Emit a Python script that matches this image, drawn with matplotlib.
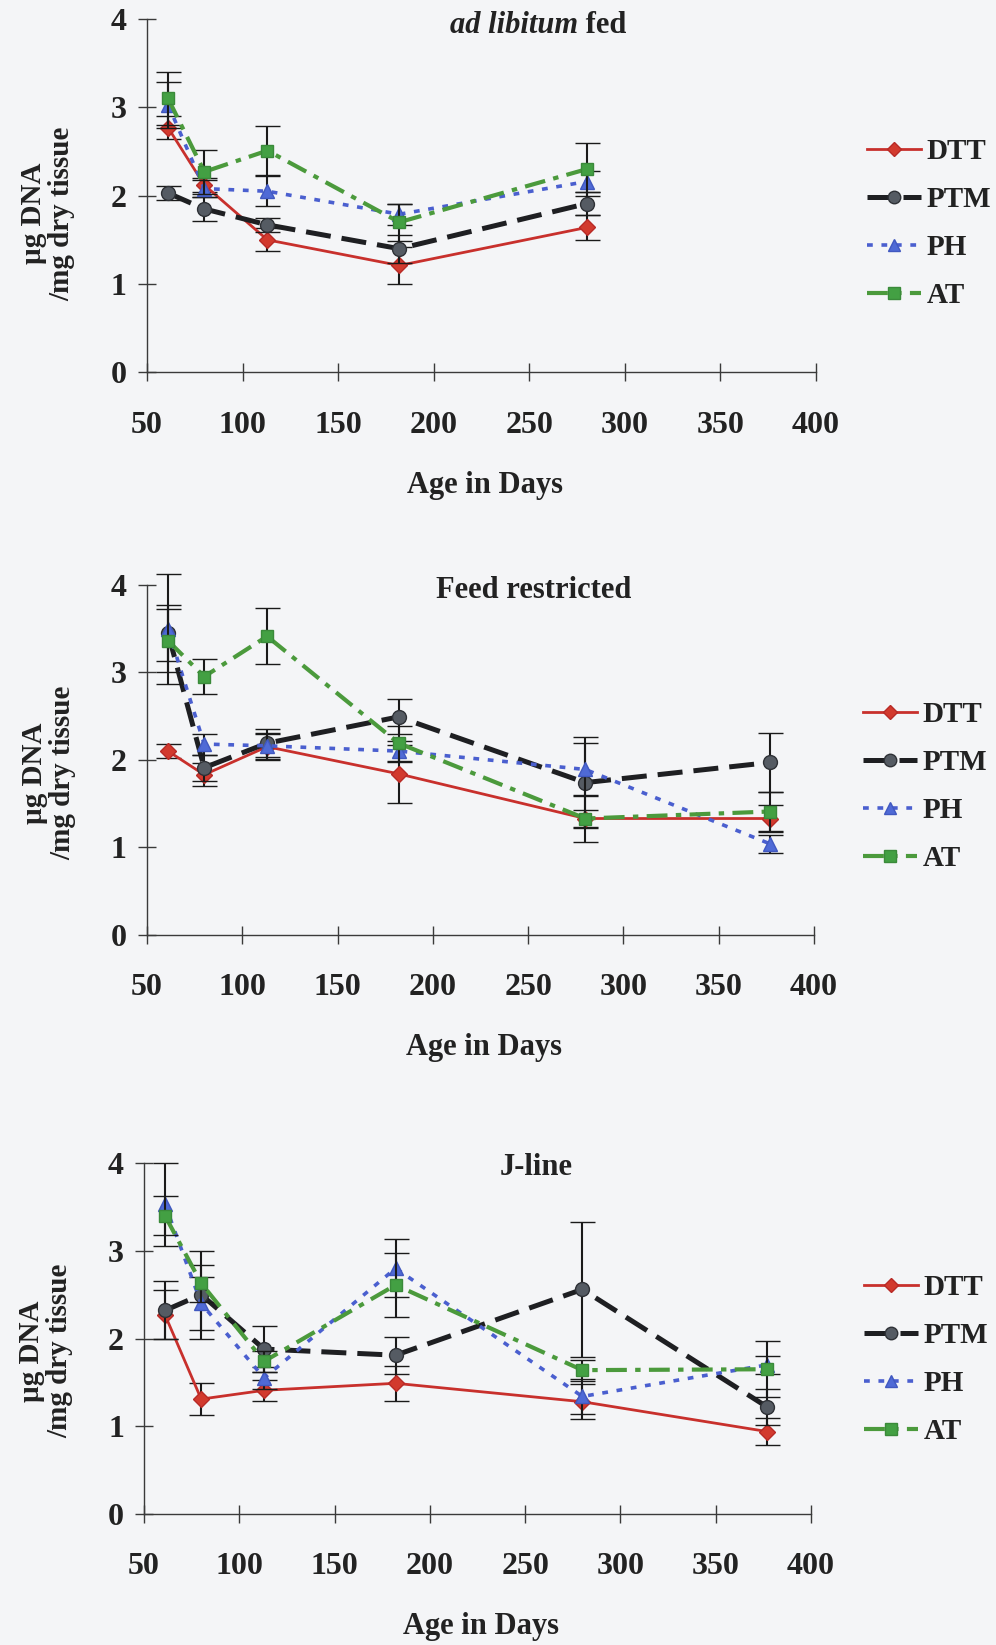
import matplotlib
matplotlib.use("Agg")
import matplotlib.pyplot as plt
from matplotlib.lines import Line2D

plt.rcParams["font.family"] = ["Liberation Serif", "DejaVu Serif"]
plt.rcParams["font.weight"] = "bold"
plt.rcParams["axes.labelweight"] = "bold"

# ---- data: DNA content (µg DNA / mg dry tissue) by age in days ----
ages_adlib = [61, 80, 113, 182, 280]
ages = [61, 80, 113, 182, 280, 377]

series_names = ["DTT", "PTM", "PH", "AT"]

adlib_dtt = [2.77, 2.12, 1.50, 1.21, 1.64]
adlib_dtt_err = [0.13, 0.08, 0.13, 0.21, 0.14]
adlib_ptm = [2.03, 1.85, 1.67, 1.40, 1.91]
adlib_ptm_err = [0.08, 0.14, 0.08, 0.16, 0.13]
adlib_ph = [3.03, 2.08, 2.05, 1.79, 2.16]
adlib_ph_err = [0.26, 0.10, 0.17, 0.12, 0.12]
adlib_at = [3.10, 2.27, 2.51, 1.70, 2.30]
adlib_at_err = [0.30, 0.25, 0.28, 0.21, 0.30]

restr_dtt = [2.10, 1.83, 2.15, 1.84, 1.33, 1.33]
restr_dtt_err = [0.08, 0.13, 0.15, 0.33, 0.10, 0.15]
restr_ptm = [3.45, 1.91, 2.19, 2.49, 1.74, 1.97]
restr_ptm_err = [0.32, 0.15, 0.16, 0.20, 0.52, 0.34]
restr_ph = [3.49, 2.18, 2.16, 2.10, 1.89, 1.04]
restr_ph_err = [0.63, 0.12, 0.15, 0.12, 0.30, 0.10]
restr_at = [3.36, 2.95, 3.41, 2.19, 1.33, 1.41]
restr_at_err = [0.36, 0.20, 0.32, 0.20, 0.27, 0.22]

jline_dtt = [2.27, 1.31, 1.41, 1.49, 1.28, 0.94]
jline_dtt_err = [0.28, 0.18, 0.12, 0.20, 0.20, 0.15]
jline_ptm = [2.32, 2.50, 1.88, 1.81, 2.56, 1.22]
jline_ptm_err = [0.33, 0.50, 0.26, 0.21, 0.77, 0.20]
jline_ph = [3.53, 2.40, 1.55, 2.80, 1.34, 1.70]
jline_ph_err = [0.47, 0.30, 0.12, 0.33, 0.20, 0.10]
jline_at = [3.40, 2.63, 1.74, 2.61, 1.64, 1.65]
jline_at_err = [0.22, 0.21, 0.12, 0.37, 0.12, 0.32]

x_ticks = [50, 100, 150, 200, 250, 300, 350, 400]
y_ticks = [0, 1, 2, 3, 4]

# ---- styles ----
BG = "#f4f5f7"
TXT = "#222222"
styles = {
    "DTT": dict(color="#c8302c", lw=2.0, ls="-", marker="D", ms=8,
                mfc="#d23a2e", mec="#b82a26"),
    "PTM": dict(color="#1e1f22", lw=3.6, ls=(0, (5, 2.2)), marker="o", ms=10,
                mfc="#555b63", mec="#2e3136"),
    "PH": dict(color="#4a5fcf", lw=2.6, ls=(0, (1.6, 2.4)), marker="^", ms=10,
               mfc="#4f6ad6", mec="#4058c0"),
    "AT": dict(color="#4b9a3c", lw=3.0, ls=(0, (5, 2, 1.3, 2)), marker="s", ms=9,
               mfc="#43a043", mec="#3a8a3a"),
}

fig = plt.figure(figsize=(9.96, 16.45), dpi=100, facecolor=BG)

panels = [
    dict(rect=[0.1476, 0.7736, 0.6717, 0.2149], x=ages_adlib,
         data=[(adlib_dtt, adlib_dtt_err), (adlib_ptm, adlib_ptm_err),
               (adlib_ph, adlib_ph_err), (adlib_at, adlib_at_err)],
         title=None, ylab_y=0.45, legend_xy=(1.076, 0.42), title_y=0.982),
    dict(rect=[0.1476, 0.4316, 0.6697, 0.2130], x=ages,
         data=[(restr_dtt, restr_dtt_err), (restr_ptm, restr_ptm_err),
               (restr_ph, restr_ph_err), (restr_at, restr_at_err)],
         title="Feed restricted", ylab_y=0.462, legend_xy=(1.073, 0.424),
         title_y=0.982, title_x=0.579),
    dict(rect=[0.1446, 0.0796, 0.6697, 0.2134], x=ages,
         data=[(jline_dtt, jline_dtt_err), (jline_ptm, jline_ptm_err),
               (jline_ph, jline_ph_err), (jline_at, jline_at_err)],
         title="J-line", ylab_y=0.464, legend_xy=(1.079, 0.439),
         title_y=0.986, title_x=0.588),
]

for p in panels:
    ax = fig.add_axes(p["rect"])
    ax.set_facecolor("none")
    for z, (name, (vals, errs)) in enumerate(zip(series_names, p["data"])):
        st = styles[name]
        ax.errorbar(p["x"], vals, yerr=errs, color=st["color"], lw=st["lw"],
                    ls=st["ls"], marker=st["marker"], ms=st["ms"],
                    mfc=st["mfc"], mec=st["mec"], mew=1.0,
                    ecolor="#1a1a1a", elinewidth=1.5, capsize=9, capthick=1.5,
                    zorder=3 + z, clip_on=False)

    ax.set_xlim(50, 400)
    ax.set_ylim(0, 4)
    ax.set_xticks(x_ticks)
    ax.set_yticks(y_ticks)
    for side in ("top", "right"):
        ax.spines[side].set_visible(False)
    for side in ("left", "bottom"):
        ax.spines[side].set_color("#3a3a3a")
        ax.spines[side].set_linewidth(1.0)
    ax.tick_params(axis="both", direction="inout", length=13, width=1.0,
                   color="#3a3a3a", labelsize=23, labelcolor=TXT)
    ax.tick_params(axis="x", pad=21)
    ax.tick_params(axis="y", pad=8)

    ax.set_xlabel("Age in Days", fontsize=22, color=TXT, fontweight="bold")
    ax.xaxis.set_label_coords(0.505, -0.321)
    ax.xaxis.label.set_va("center")
    ax.set_ylabel("µg DNA\n/mg dry tissue", fontsize=21, color=TXT,
                  linespacing=1.05, fontweight="bold")
    ax.yaxis.set_label_coords(-0.148, p["ylab_y"])
    ax.yaxis.label.set_va("center")

    if p["title"] is None:
        ax.text(0.644, 0.982, "ad libitum", transform=ax.transAxes,
                ha="right", va="center", fontsize=22, style="italic",
                fontweight="bold", color=TXT)
        ax.text(0.644, 0.982, " fed", transform=ax.transAxes, ha="left",
                va="center", fontsize=22, fontweight="bold", color=TXT)
    else:
        ax.text(p["title_x"], p["title_y"], p["title"], transform=ax.transAxes,
                ha="center", va="center", fontsize=22, fontweight="bold",
                color=TXT)

    handles = []
    for name in series_names:
        st = styles[name]
        handles.append(Line2D([], [], color=st["color"], lw=st["lw"],
                              ls=st["ls"], marker=st["marker"],
                              ms=st["ms"] - 1, mfc=st["mfc"], mec=st["mec"]))
    leg = ax.legend(handles, series_names, loc="center left",
                    bbox_to_anchor=p["legend_xy"], frameon=False, fontsize=21,
                    handlelength=1.85, handletextpad=0.2, labelspacing=0.72,
                    borderpad=0, borderaxespad=0, numpoints=1,
                    labelcolor=TXT)
    for t in leg.get_texts():
        t.set_fontweight("bold")

fig.savefig("out.png", dpi=100, facecolor=BG)
